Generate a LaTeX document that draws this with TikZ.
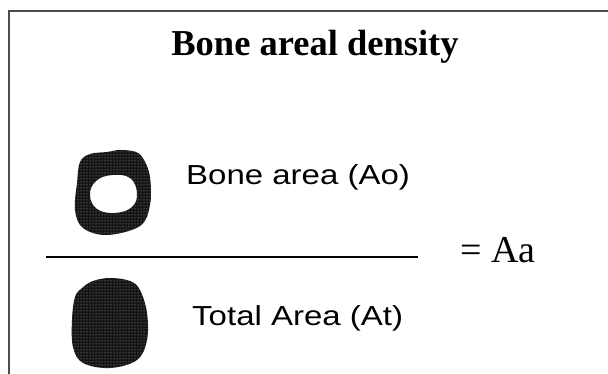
\documentclass[tikz,border=0pt]{standalone}
\usepackage{fontspec}
\setmainfont{Liberation Serif}
\newfontfamily\labelfont[FakeStretch=1.2]{Liberation Sans}
\usetikzlibrary{patterns}
\begin{document}
\begin{tikzpicture}[x=1pt,y=-1pt,
  frameline/.style={draw=black!70,line width=1.5pt},
  bonefill/.style={fill=black!92},
  halftone/.style={pattern=dots,pattern color=black!30},
  labeltext/.style={inner sep=0pt,anchor=base west,font=\labelfont\fontsize{27.5}{33}\selectfont},
  eqtext/.style={inner sep=0pt,anchor=base west,font=\fontsize{38}{45}\selectfont},
  titletext/.style={inner sep=0pt,anchor=base,font=\bfseries\fontsize{36.5}{43}\selectfont}]
  \useasboundingbox (0,0) rectangle (608,374);
  \fill[white] (0,0) rectangle (608,374);

  % open frame: top and left edges
  \coordinate (ftl) at (9,11);
  \coordinate (ftr) at (610,11);
  \coordinate (fbl) at (9,376);
  \draw[frameline] (ftr) -- (ftl) -- (fbl);

  % title
  \node[titletext] (title) at (315,56) {Bone areal density};

  % cross-section of bone: ring
  \def\ringpath{plot[smooth cycle,tension=0.6] coordinates {
      (77,183) (80,162) (90,154) (107,152) (120,150) (136,152) (144,160)
      (150,177) (150,205) (140,226) (107,235) (83,228) (75,210)}
    plot[smooth cycle,tension=0.7] coordinates {
      (90,195) (96,181) (112,175) (130,178) (137,193) (132,207) (115,213) (97,209)}}
  \fill[bonefill,even odd rule] \ringpath;
  \fill[halftone,even odd rule] \ringpath;

  % total cross-section: solid
  \def\solidpath{plot[smooth cycle,tension=0.6] coordinates {
      (82,288) (93,281) (110,278) (130,281) (140,290) (147,313) (147,340)
      (137,360) (110,368) (83,363) (73,347) (72,320) (75,297)}}
  \fill[bonefill] \solidpath;
  \fill[halftone] \solidpath;

  % labels
  \node[labeltext] (bonearea) at (186,185) {Bone area (Ao)};
  \node[labeltext] (totalarea) at (192,325) {Total Area (At)};

  % fraction bar
  \coordinate (barL) at (46,257);
  \coordinate (barR) at (418,257);
  \draw[line width=2pt] (barL) -- (barR);

  \node[eqtext] (result) at (460,263) {= Aa};
\end{tikzpicture}
\end{document}
